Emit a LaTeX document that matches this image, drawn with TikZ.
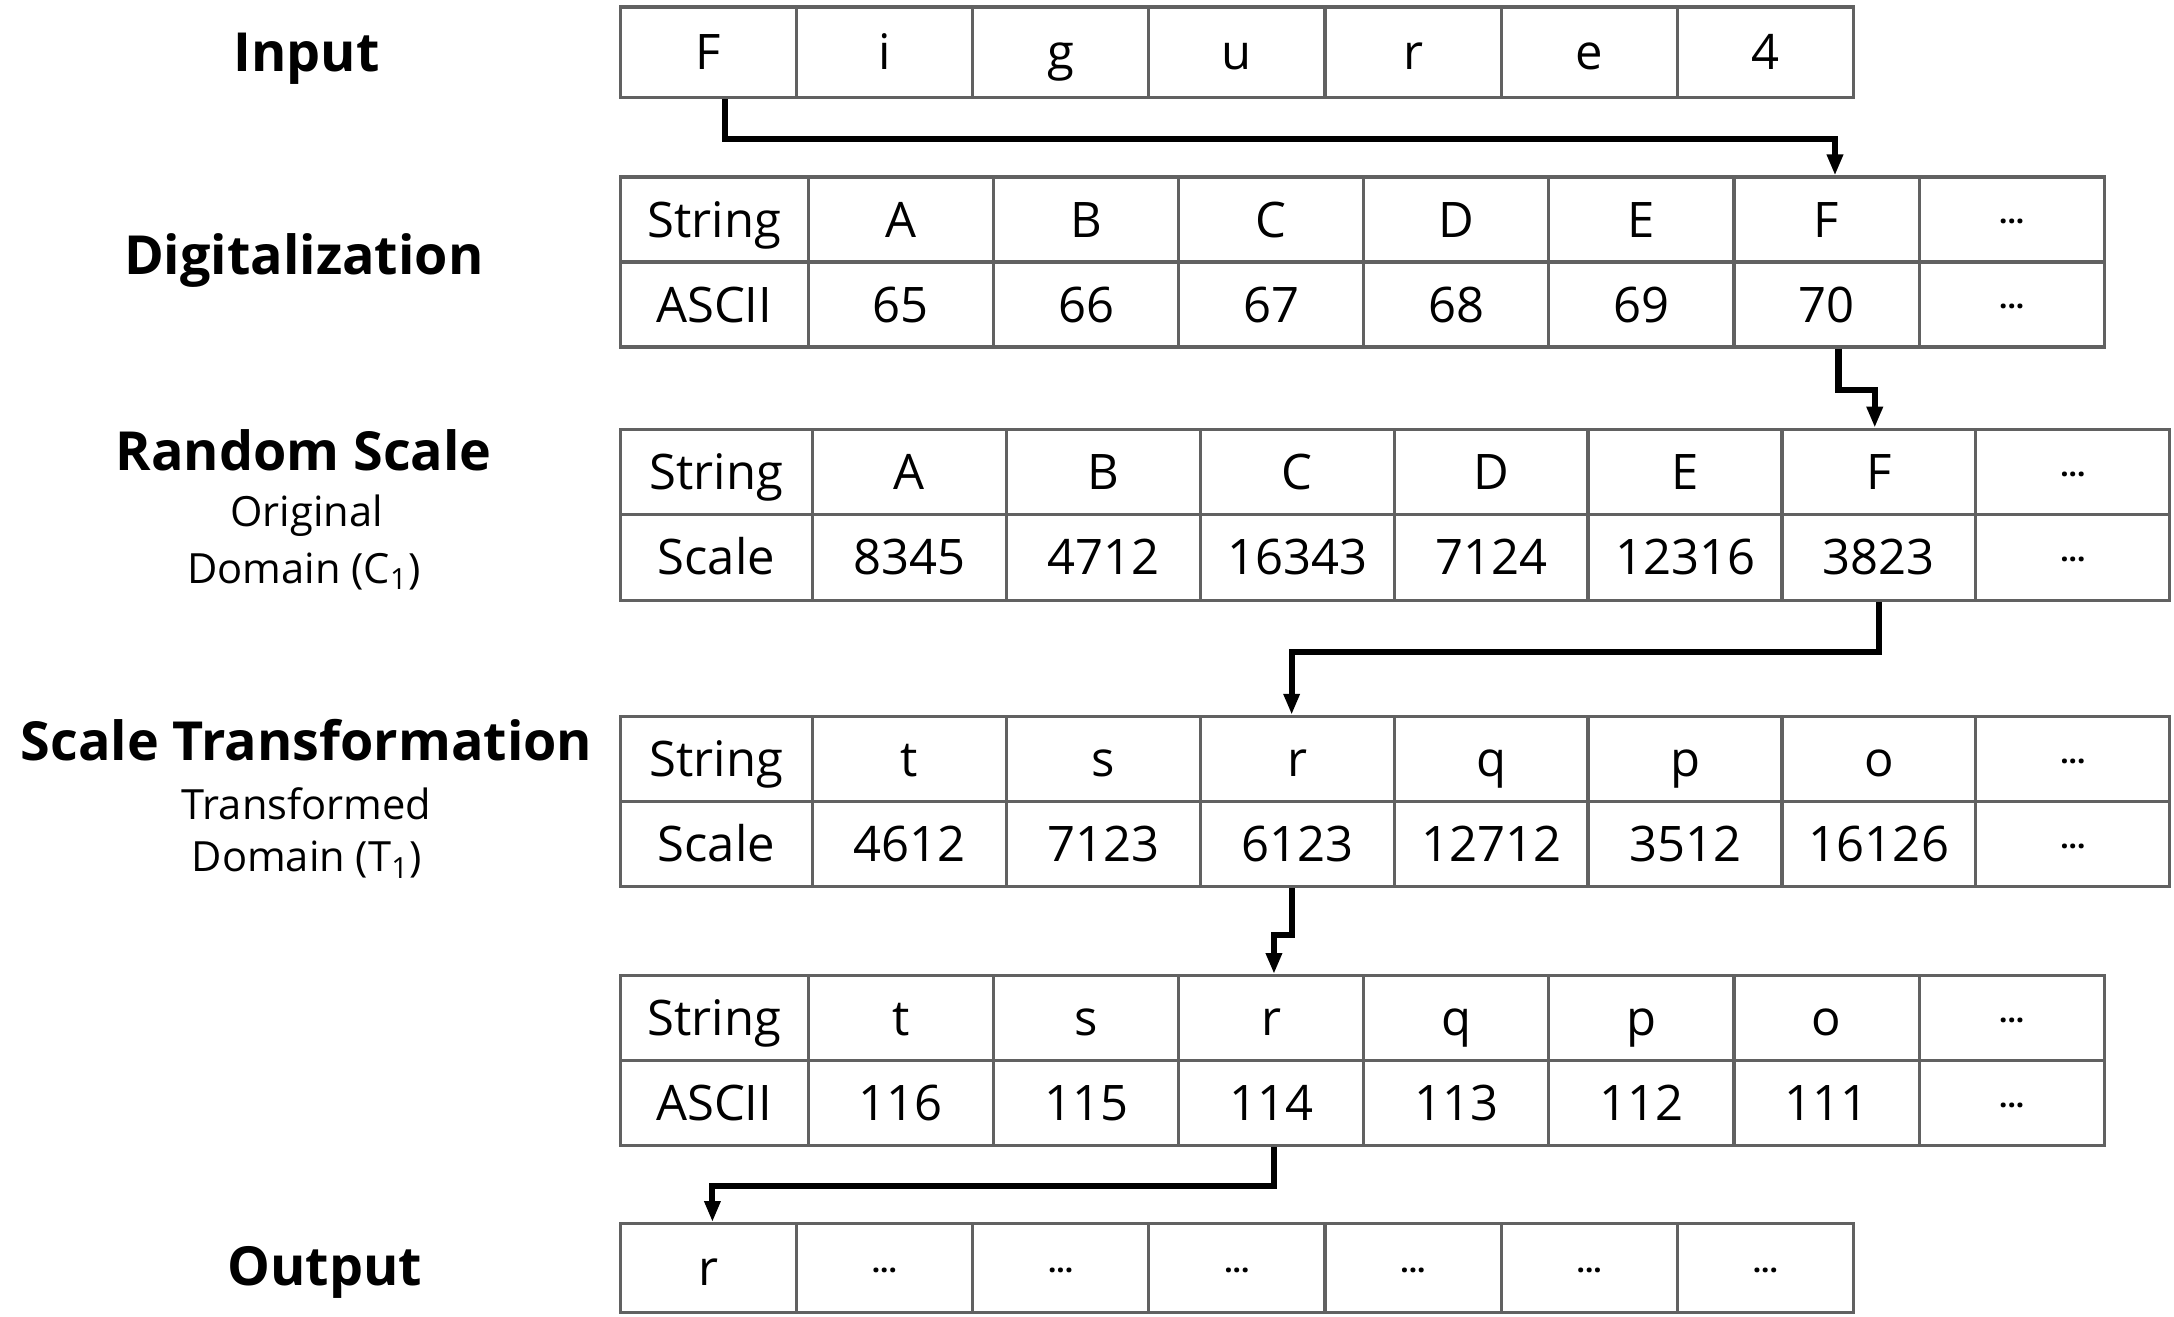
\documentclass[tikz,border=0pt]{standalone}
\usepackage{fontspec}
\setmainfont{Open Sans}
\usetikzlibrary{arrows.meta}
\newcommand\dd{\raisebox{5.4pt}{\fontsize{12}{12}\selectfont\bfseries ...}}
\def\U{0.2mm}
\begin{document}
\begin{tikzpicture}[x=0.2mm,y=-0.2mm,
  cell/.style={draw=black!62, line width=1.3pt, inner sep=0pt, font=\fontsize{20}{20}\selectfont, text height=14.3pt, text depth=0pt},
  head/.style={font=\fontsize{22}{26}\selectfont\bfseries, inner sep=0pt},
  sub/.style={font=\fontsize{17}{20}\selectfont, inner sep=0pt},
  conn/.style={line width=2.5pt, -{Triangle[length=3mm,width=2.2mm]}}]
\useasboundingbox (0,0) rectangle (1560,945);

% labels
\node[head] (lin) at (220,42) {Input};
\node[head] (ldg) at (218,187) {Digitalization};
\node[head] (lrs) at (218,323) {Random Scale};
\node[sub] (lrs1) at (220,370) {Original};
\node[sub] (lrs2) at (218,410) {Domain (C\textsubscript{1})};
\node[head] (lst) at (220,531) {Scale Transformation};
\node[sub] (lst1) at (220,577) {Transformed};
\node[sub] (lst2) at (220,617) {Domain (T\textsubscript{1})};
\node[head] (lout) at (233,913) {Output};

% input
\foreach \t [count=\i] in {F,i,g,u,r,e,4}
  \node[cell, minimum width=126.43*\U, minimum height=65*\U] (in\i) at ({445+126.43*(\i-0.5)},37.5) {\t};

% digitalization
\node[cell, minimum width=135*\U, minimum height=61*\U] (dgS0) at (512.5,157.5) {String};
\node[cell, minimum width=135*\U, minimum height=61*\U] (dgV0) at (512.5,218.5) {ASCII};
\foreach \s/\v [count=\i] in {A/65,B/66,C/67,D/68,E/69,F/70,\dd/\dd} {
  \node[cell, minimum width=132.86*\U, minimum height=61*\U] (dgS\i) at ({580+132.86*(\i-0.5)},157.5) {\s};
  \node[cell, minimum width=132.86*\U, minimum height=61*\U] (dgV\i) at ({580+132.86*(\i-0.5)},218.5) {\v};
}

% random scale
\node[cell, minimum width=138*\U, minimum height=61*\U] (rsS0) at (514,338.5) {String};
\node[cell, minimum width=138*\U, minimum height=62*\U] (rsV0) at (514,400) {Scale};
\foreach \s/\v [count=\i] in {A/8345,B/4712,C/16343,D/7124,E/12316,F/3823,\dd/\dd} {
  \node[cell, minimum width=139.14*\U, minimum height=61*\U] (rsS\i) at ({583+139.14*(\i-0.5)},338.5) {\s};
  \node[cell, minimum width=139.14*\U, minimum height=62*\U] (rsV\i) at ({583+139.14*(\i-0.5)},400) {\v};
}

% scale transformation
\node[cell, minimum width=138*\U, minimum height=61*\U] (stS0) at (514,544.5) {String};
\node[cell, minimum width=138*\U, minimum height=61*\U] (stV0) at (514,605.5) {Scale};
\foreach \s/\v [count=\i] in {t/4612,s/7123,r/6123,q/12712,p/3512,o/16126,\dd/\dd} {
  \node[cell, minimum width=139.14*\U, minimum height=61*\U] (stS\i) at ({583+139.14*(\i-0.5)},544.5) {\s};
  \node[cell, minimum width=139.14*\U, minimum height=61*\U] (stV\i) at ({583+139.14*(\i-0.5)},605.5) {\v};
}

% ascii back
\node[cell, minimum width=135*\U, minimum height=61*\U] (asS0) at (512.5,730.5) {String};
\node[cell, minimum width=135*\U, minimum height=61*\U] (asV0) at (512.5,791.5) {ASCII};
\foreach \s/\v [count=\i] in {t/116,s/115,r/114,q/113,p/112,o/111,\dd/\dd} {
  \node[cell, minimum width=132.86*\U, minimum height=61*\U] (asS\i) at ({580+132.86*(\i-0.5)},730.5) {\s};
  \node[cell, minimum width=132.86*\U, minimum height=61*\U] (asV\i) at ({580+132.86*(\i-0.5)},791.5) {\v};
}

% output
\foreach \t [count=\i] in {r,\dd,\dd,\dd,\dd,\dd,\dd}
  \node[cell, minimum width=126.43*\U, minimum height=64*\U] (out\i) at ({445+126.43*(\i-0.5)},910) {\t};

% connectors
\draw[conn] ([xshift=12*\U]in1.south) -- ++(0,28.5) -| ([xshift=6*\U]dgS6.north);
\draw[conn] ([xshift=8.5*\U]dgV6.south) -- ++(0,30) -| ([xshift=-3*\U]rsS6.north);
\draw[conn] (rsV6.south) -- ++(0,36) -| ([xshift=-4*\U]stS3.north);
\draw[conn] ([xshift=-4*\U]stV3.south) -- ++(0,34) -| ([xshift=2*\U]asS3.north);
\draw[conn] ([xshift=2*\U]asV3.south) -- ++(0,28) -| ([xshift=3*\U]out1.north);
\end{tikzpicture}
\end{document}
